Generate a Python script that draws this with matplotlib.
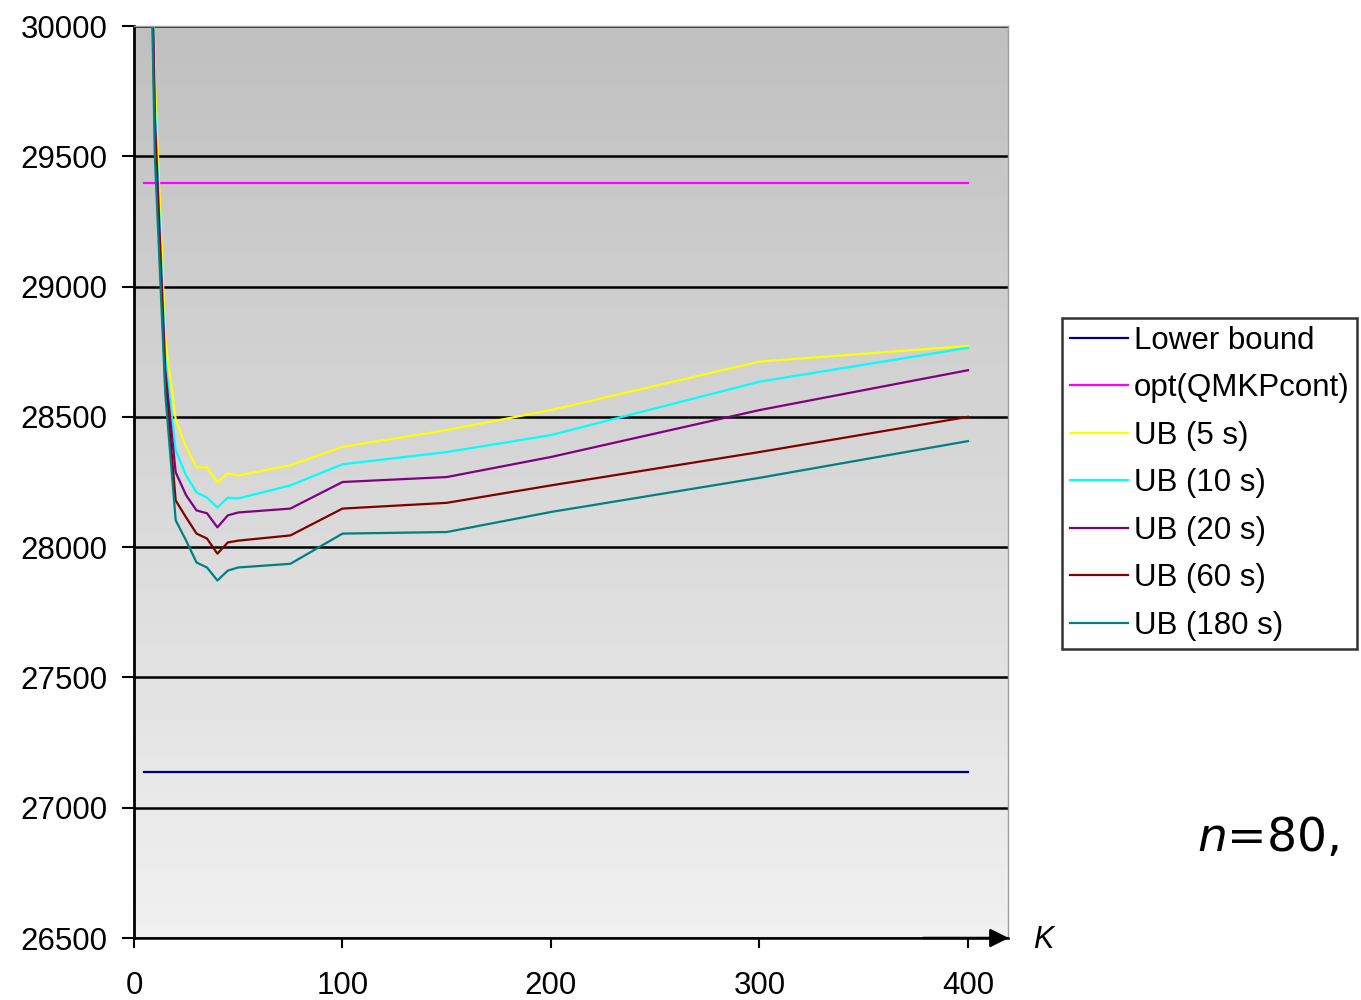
import numpy as np
import matplotlib
matplotlib.use('Agg')
import matplotlib.pyplot as plt

plt.rcParams['font.family'] = ['Liberation Sans', 'DejaVu Sans']

# K values and upper bounds
K = [5, 10, 15, 20, 25, 30, 35, 40, 45, 50, 75, 100, 150, 200, 300, 400]
lower_bound = 27137
opt_qmkpcont = 29397
ub_5s = [32000, 29800, 28800, 28490, 28383, 28306, 28306, 28249, 28283, 28275, 28314, 28385, 28449, 28526, 28712, 28772]
ub_10s = [31900, 29700, 28720, 28372, 28275, 28210, 28190, 28152, 28190, 28187, 28237, 28318, 28365, 28430, 28635, 28765]
ub_20s = [31800, 29650, 28680, 28287, 28199, 28141, 28130, 28076, 28122, 28133, 28148, 28250, 28269, 28346, 28526, 28679]
ub_60s = [31700, 29600, 28640, 28179, 28114, 28052, 28033, 27975, 28018, 28025, 28045, 28148, 28170, 28237, 28365, 28500]
ub_180s = [31600, 29500, 28590, 28103, 28025, 27941, 27922, 27872, 27910, 27922, 27936, 28052, 28058, 28135, 28266, 28407]

xticks = [0, 100, 200, 300, 400]
yticks = [26500, 27000, 27500, 28000, 28500, 29000, 29500, 30000]

fig = plt.figure(figsize=(13.61, 10), dpi=100)
ax = fig.add_axes([134 / 1361, 62 / 1000, 874 / 1361, 912 / 1000])

xmax = 419.2
# grey gradient background of the plot area
grad = np.linspace(0.75, 0.94, 256).reshape(-1, 1)
ax.imshow(grad, extent=[0, xmax, 26500, 30000], aspect='auto', cmap='gray',
          vmin=0, vmax=1, zorder=-1, interpolation='bilinear')

lw = 1.6
ax.plot(K, [lower_bound] * len(K), color='#000080', lw=lw, label='Lower bound')
ax.plot(K, [opt_qmkpcont] * len(K), color='#ff00ff', lw=lw, label='opt(QMKPcont)')
ax.plot(K, ub_5s, color='#ffff00', lw=lw, label='UB (5 s)')
ax.plot(K, ub_10s, color='#00ffff', lw=lw, label='UB (10 s)')
ax.plot(K, ub_20s, color='#800080', lw=lw, label='UB (20 s)')
ax.plot(K, ub_60s, color='#800000', lw=lw, label='UB (60 s)')
ax.plot(K, ub_180s, color='#008080', lw=lw, label='UB (180 s)')

ax.set_xlim(0, xmax)
ax.set_ylim(26500, 30000)
ax.set_xticks(xticks)
ax.set_yticks(yticks)
ax.set_axisbelow(True)
ax.grid(axis='y', color='black', lw=1.8)
ax.tick_params(axis='y', labelsize=22.5, length=9, width=1.5, pad=10)
ax.tick_params(axis='x', labelsize=22.5, length=7, width=1.5, pad=17)

ax.spines['left'].set_linewidth(2)
ax.spines['bottom'].set_linewidth(1.8)
for s in ['top', 'right']:
    ax.spines[s].set_color('#a0a0a0')
    ax.spines[s].set_linewidth(1)

# arrow at the end of the x axis
ax.annotate('', xy=(1.004, 0), xytext=(0.9, 0), xycoords='axes fraction',
            arrowprops=dict(arrowstyle='-|>', color='black', lw=1.8, mutation_scale=28),
            annotation_clip=False)

fig.text(1033 / 1361, 1 - 940 / 1000, 'K', style='italic', fontsize=22, va='center')
fig.text(1197 / 1361, 1 - 838 / 1000, r'$n$=80,', fontsize=34, family='DejaVu Sans', va='center')

leg = fig.legend(loc='upper left', bbox_to_anchor=(1062 / 1361, 1 - 318 / 1000),
                 borderaxespad=0, fontsize=22.5, frameon=True, fancybox=False,
                 handlelength=1.85, handletextpad=0.2, labelspacing=0.56,
                 borderpad=0.25)
leg.get_frame().set_edgecolor('black')
leg.get_frame().set_linewidth(1.8)
leg.get_frame().set_facecolor('white')

plt.savefig('out.png', dpi=100)
